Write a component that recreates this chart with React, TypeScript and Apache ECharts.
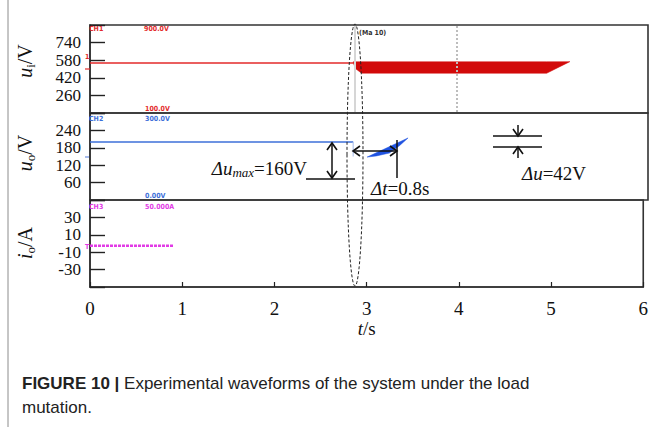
import React, { useEffect, useRef } from "react";
import * as echarts from "echarts";

// ---------- data ----------
const timeTicks = [0, 1, 2, 3, 4, 5, 6];
const uiTickLabels = [260, 420, 580, 740];
const uoTickLabels = [60, 120, 180, 240];
const ioTickLabels = [-30, -10, 10, 30];

// input voltage u_i (V)
const uiTime = [0, 2.83];
const uiVolt = [555, 555];
// red oscillating band after load step
const uiBandTime = [2.83, 2.86, 2.92, 4.91, 5.16];
const uiBandTop = [565, 566, 566, 566, 567];
const uiBandBottom = [555, 500, 462, 461, 567];

// output voltage u_o (V)
const uoTime = [0, 2.83];
const uoVolt = [200, 200];
const uoDropTime = [2.83, 2.83];
const uoDropVolt = [200, 150];
const uoWedgeTime = [2.98, 3.42, 3.33, 3.22, 3.08];
const uoWedgeVolt = [148, 214, 188, 162, 152];

// output current i_o (A)
const ioTime = [0, 0.91];
const ioCurrent = [-2.5, -2.5];

const SERIF = "'Liberation Serif', 'Times New Roman', serif";
const SANS = "'Liberation Sans', Arial, sans-serif";
const NARROW = "'DejaVu Sans Condensed', 'Liberation Sans Narrow', sans-serif";

const zip = (a: number[], b: number[]) => a.map((v, i) => [v, b[i]]);

function polySeries(
  name: string,
  xi: number,
  times: number[],
  values: number[],
  color: string
) {
  return {
    name,
    type: "custom",
    xAxisIndex: xi,
    yAxisIndex: xi,
    clip: false,
    data: [[times[0], values[0]]],
    renderItem: (_p: any, api: any) => {
      const pts = times.map((t, i) => api.coord([t, values[i]]));
      return {
        type: "polygon",
        shape: { points: pts },
        style: { fill: color, stroke: color, lineWidth: 0.5 },
      };
    },
  };
}

function arrowHead(x: number, y: number, dir: "up" | "down" | "left" | "right") {
  const w = 5,
    h = 7;
  let pts: number[][];
  if (dir === "down") pts = [[x - w, y - h], [x, y], [x + w, y - h]];
  else if (dir === "up") pts = [[x - w, y + h], [x, y], [x + w, y + h]];
  else if (dir === "left") pts = [[x + h, y - w], [x, y], [x + h, y + w]];
  else pts = [[x - h, y - w], [x, y], [x - h, y + w]];
  return {
    type: "polyline",
    shape: { points: pts },
    style: { stroke: "#111", lineWidth: 1.6, fill: "none" },
    z: 50,
  };
}

function line(x1: number, y1: number, x2: number, y2: number, stroke = "#111", lineWidth = 1.5, dash?: number[]) {
  return {
    type: "line",
    shape: { x1, y1, x2, y2 },
    style: { stroke, lineWidth, lineDash: dash },
    z: 50,
  };
}

function smallText(x: number, y: number, text: string, fill: string) {
  return {
    type: "text",
    x,
    y,
    z: 40,
    style: {
      text,
      fill,
      fontFamily: NARROW,
      fontSize: 7,
      fontWeight: "bold",
      align: "left",
      verticalAlign: "middle",
    },
  };
}

const richSub = {
  it: { fontFamily: SERIF, fontStyle: "italic", fontSize: 20, lineHeight: 24, fill: "#111" },
  n: { fontFamily: SERIF, fontSize: 20, lineHeight: 24, fill: "#111" },
  sub: {
    fontFamily: SERIF,
    fontSize: 13,
    lineHeight: 13,
    verticalAlign: "bottom",
    fill: "#111",
  },
};

const richAnnot = {
  it: { fontFamily: SERIF, fontStyle: "italic", fontSize: 19, lineHeight: 22, fill: "#111" },
  n: { fontFamily: SERIF, fontSize: 19, lineHeight: 22, fill: "#111" },
  subit: {
    fontFamily: SERIF,
    fontStyle: "italic",
    fontSize: 13,
    lineHeight: 13,
    verticalAlign: "bottom",
    fill: "#111",
  },
};

function yName(x: number, y: number, text: string) {
  return {
    type: "text",
    x,
    y,
    rotation: Math.PI / 2,
    z: 40,
    style: { text, rich: richSub, align: "center", verticalAlign: "middle" },
  };
}

function annot(x: number, y: number, text: string, align: string) {
  return {
    type: "text",
    x,
    y,
    z: 50,
    style: { text, rich: richAnnot, align, verticalAlign: "middle" },
  };
}

export default function App() {
  const ref = useRef<HTMLDivElement>(null);

  useEffect(() => {
    if (!ref.current) return;
    const chart = echarts.init(ref.current, undefined, { renderer: "svg" });

    const grids = [
      { left: 90, top: 25, width: 558, height: 88 },
      { left: 90, top: 113, width: 558, height: 87 },
      { left: 90, top: 200, width: 558, height: 87 },
    ].map((g) => ({ ...g, show: true, borderColor: "#333", borderWidth: 1.6, backgroundColor: "transparent" }));

    const yAxisBase = (gi: number, min: number, max: number, interval: number, labels: number[]) => ({
      type: "value",
      gridIndex: gi,
      min,
      max,
      interval,
      axisLine: { show: true, onZero: false, lineStyle: { color: "#333", width: 1.6 } },
      axisTick: { show: true, inside: true, length: 15, lineStyle: { color: "#222", width: 1.4 } },
      splitLine: { show: false },
      axisLabel: {
        show: true,
        margin: 9,
        fontFamily: SERIF,
        fontSize: 17,
        lineHeight: 16,
        color: "#111",
        formatter: (v: number) => (labels.includes(v) ? String(v) : ""),
      },
    });

    const option: any = {
      animation: false,
      backgroundColor: "#fff",
      grid: grids,
      xAxis: [0, 1, 2].map((i) => ({
        type: "value",
        gridIndex: i,
        min: timeTicks[0],
        max: timeTicks[timeTicks.length - 1],
        interval: 1,
        show: i === 2,
        axisLine: { show: true, onZero: false, lineStyle: { color: "#333", width: 1.6 } },
        axisTick: { show: true, inside: true, length: 5, lineStyle: { color: "#222", width: 1.2 } },
        splitLine: { show: false },
        axisLabel: {
          margin: 12,
          fontFamily: SERIF,
          fontSize: 19,
          color: "#111",
          showMaxLabel: true,
          hideOverlap: false,
        },
        name: i === 2 ? "{it|t}/s" : "",
        nameLocation: "middle",
        nameGap: 30,
        nameTextStyle: {
          fontFamily: SERIF,
          fontSize: 19,
          color: "#111",
          rich: {
            it: { fontFamily: SERIF, fontStyle: "italic", fontSize: 19, color: "#111" },
          },
        },
      })),
      yAxis: [
        yAxisBase(0, 100, 900, 160, uiTickLabels),
        yAxisBase(1, 0, 300, 60, uoTickLabels),
        yAxisBase(2, -50, 50, 20, ioTickLabels),
      ],
      series: [
        {
          name: "u_i",
          type: "line",
          xAxisIndex: 0,
          yAxisIndex: 0,
          data: zip(uiTime, uiVolt),
          symbol: "none",
          lineStyle: { color: "#e32a2a", width: 1.6 },
        },
        polySeries(
          "u_i band",
          0,
          [...uiBandTime, ...uiBandTime.slice().reverse()],
          [...uiBandTop, ...uiBandBottom.slice().reverse()],
          "#d20a0a"
        ),
        {
          name: "u_o",
          type: "line",
          xAxisIndex: 1,
          yAxisIndex: 1,
          data: zip(uoTime, uoVolt),
          symbol: "none",
          lineStyle: { color: "#3d6fd9", width: 1.6 },
        },
        {
          name: "u_o drop",
          type: "line",
          xAxisIndex: 1,
          yAxisIndex: 1,
          data: zip(uoDropTime, uoDropVolt),
          symbol: "none",
          lineStyle: { color: "#b3c6ee", width: 1.2 },
        },
        polySeries("u_o recovery", 1, uoWedgeTime, uoWedgeVolt, "#1f52e0"),
        {
          name: "i_o",
          type: "line",
          xAxisIndex: 2,
          yAxisIndex: 2,
          data: zip(ioTime, ioCurrent),
          symbol: "none",
          lineStyle: { color: "#e23be6", width: 2.4, type: [3, 1] },
        },
      ],
      graphic: [
        // page frame
        line(8, 0, 8, 427, "#8c8c8c", 1),
        // oscilloscope cursors
        line(355, 26, 355, 112, "#d6d6d6", 2),
        line(457, 26, 457, 112, "#bdbdbd", 2, [2, 2]),
        // dashed ellipse
        {
          type: "ellipse",
          shape: { cx: 355, cy: 155, rx: 8, ry: 131 },
          style: { stroke: "#222", lineWidth: 1, lineDash: [3, 2], fill: "none" },
          z: 45,
        },
        // channel markers on left
        line(85, 69, 90, 69, "#e32a2a", 1.2),
        smallText(85, 57, "1", "#e32a2a"),
        line(85, 157, 89, 157, "#6d8fe0", 1.2),
        smallText(85, 247, "T", "#e23be6"),
        // oscilloscope readouts
        smallText(89, 29, "CH1", "#e32a2a"),
        smallText(144, 29, "900.0V", "#e32a2a"),
        smallText(359, 33, "(Ma 10)", "#333"),
        smallText(145, 109, "100.0V", "#e32a2a"),
        smallText(89, 119, "CH2", "#3d6fd9"),
        smallText(145, 119, "300.0V", "#3d6fd9"),
        smallText(145, 196, "0.00V", "#3d6fd9"),
        smallText(89, 207, "CH3", "#e23be6"),
        smallText(145, 207, "50.000A", "#e23be6"),
        // y axis names
        yName(25, 61, "{it|u}{sub|i}{n|/V}"),
        yName(25, 153, "{it|u}{sub|o}{n|/V}"),
        yName(25, 243, "{it|i}{sub|o}{n|/A}"),
        // Δu_max annotation
        line(332, 143, 332, 178),
        arrowHead(332, 143, "up"),
        arrowHead(332, 178, "down"),
        line(306, 179, 355, 179),
        annot(307, 168, "{it|Δu}{subit|max}{n|=160V}", "right"),
        // Δt annotation
        line(353, 151, 397, 151),
        arrowHead(353, 151, "left"),
        arrowHead(397, 151, "right"),
        line(397, 140, 397, 178),
        annot(371, 188, "{it|Δt}{n|=0.8s}", "left"),
        // Δu annotation
        line(493, 136, 542, 136),
        line(493, 147, 542, 147),
        line(518, 125, 518, 136),
        arrowHead(518, 136, "down"),
        line(518, 147, 518, 158),
        arrowHead(518, 147, "up"),
        annot(522, 173, "{it|Δu}{n|=42V}", "left"),
        // caption
        {
          type: "text",
          x: 22,
          y: 383,
          style: {
            text: "{b|FIGURE 10 |} {r|Experimental waveforms of the system under the load}",
            align: "left",
            verticalAlign: "middle",
            rich: {
              b: { fontFamily: SANS, fontWeight: "bold", fontSize: 17, fill: "#222" },
              r: { fontFamily: SANS, fontSize: 17, fill: "#222" },
            },
            fontFamily: SANS,
            fontSize: 17,
          },
        },
        {
          type: "text",
          x: 22,
          y: 407,
          style: {
            text: "mutation.",
            fontFamily: SANS,
            fontSize: 17,
            fill: "#222",
            align: "left",
            verticalAlign: "middle",
          },
        },
      ],
    };

    chart.setOption(option);
    return () => chart.dispose();
  }, []);

  return (
    <div
      ref={ref}
      style={{ position: "absolute", left: 0, top: 0, width: 651, height: 427, background: "#fff" }}
    />
  );
}
